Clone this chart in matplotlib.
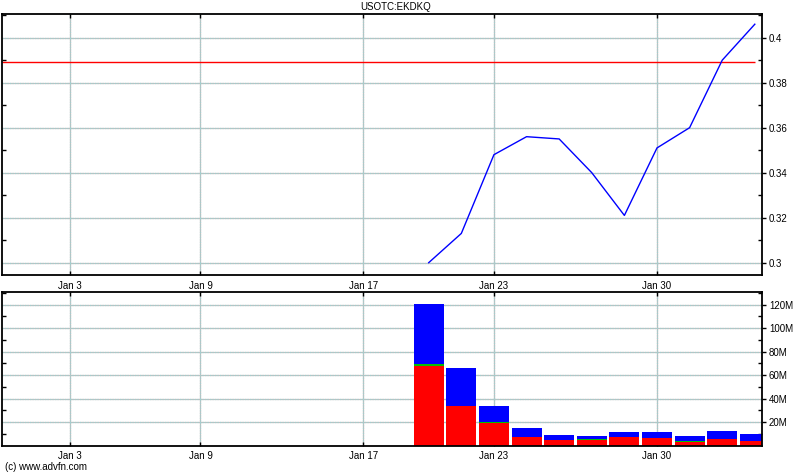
import matplotlib
matplotlib.use("Agg")
import matplotlib.pyplot as plt
from matplotlib.ticker import FixedLocator
import numpy as np

plt.rcParams['font.family'] = ['Liberation Sans', 'DejaVu Sans']

# Trading days shown on the axis (index = position)
dates = ["Jan 3", "Jan 4", "Jan 5", "Jan 6", "Jan 9", "Jan 10", "Jan 11", "Jan 12",
         "Jan 13", "Jan 17", "Jan 18", "Jan 19", "Jan 20", "Jan 23", "Jan 24",
         "Jan 25", "Jan 26", "Jan 27", "Jan 30", "Jan 31", "Feb 1", "Feb 2"]
tick_labels = ["Jan 3", "Jan 9", "Jan 17", "Jan 23", "Jan 30"]

# Price data (from Jan 19)
price_dates = ["Jan 19", "Jan 20", "Jan 23", "Jan 24", "Jan 25", "Jan 26",
               "Jan 27", "Jan 30", "Jan 31", "Feb 1", "Feb 2"]
price = [0.300, 0.313, 0.348, 0.356, 0.355, 0.340, 0.321, 0.351, 0.360, 0.390, 0.406]
ref_level = 0.3893

# Volume (millions): red, green, blue stacked
vol_red = [68.0, 33.8, 19.4, 7.7, 5.2, 5.0, 7.7, 6.9, 3.5, 5.8, 4.1]
vol_green = [1.2, 0.0, 0.8, 0.0, 0.0, 0.6, 0.0, 0.0, 0.8, 0.0, 0.0]
vol_blue = [51.4, 32.4, 13.6, 7.7, 4.0, 2.7, 4.0, 4.8, 4.0, 6.8, 5.9]

idx = {d: i for i, d in enumerate(dates)}
px = [idx[d] for d in price_dates]
tick_pos = [idx[d] for d in tick_labels]

fig = plt.figure(figsize=(8, 4.75), dpi=100)
ax1 = fig.add_axes([0.0025, 0.4211, 0.95, 0.5494])
ax2 = fig.add_axes([0.0025, 0.0617, 0.95, 0.3242])

xlim = (-2.085, 21.22)
grid_base = dict(color='#c4bcbc', linewidth=0.9, zorder=0)
grid_over = dict(color='#9fd0d0', linewidth=0.9, zorder=0.5, linestyle=(0, (1, 1)))

def grid_v(ax, t):
    ax.axvline(t, **grid_base)
    ax.axvline(t, **grid_over)

def grid_h(ax, v):
    ax.axhline(v, **grid_base)
    ax.axhline(v, **grid_over)

for ax in (ax1, ax2):
    ax.set_xlim(*xlim)
    for s in ax.spines.values():
        s.set_linewidth(1.3)
        s.set_color('black')
    ax.set_xticks(tick_pos)
    ax.yaxis.tick_right()
    ax.tick_params(axis='x', which='major', direction='in', length=3, width=1,
                   top=True, bottom=True, labelsize=7, pad=4)
    ax.tick_params(axis='y', which='major', direction='out', length=3, width=1,
                   right=True, left=False, labelsize=7, pad=2)
    ax.tick_params(axis='y', which='minor', direction='in', length=3, width=1,
                   right=True, left=True)
    ax.set_axisbelow(True)
    for t in tick_pos:
        grid_v(ax, t)

# Top panel
ax1.set_ylim(0.29453, 0.41053)
yt = [0.30, 0.32, 0.34, 0.36, 0.38, 0.40]
ax1.set_yticks(yt)
ax1.set_yticklabels(["0.3", "0.32", "0.34", "0.36", "0.38", "0.4"])
ax1.yaxis.set_minor_locator(FixedLocator([0.31, 0.33, 0.35, 0.37, 0.39, 0.41]))
for v in yt:
    grid_h(ax1, v)
ax1.set_xticklabels(tick_labels)
ax1.hlines(ref_level, xlim[0], px[-1], color='#ff0000', linewidth=1, zorder=2)
ax1.plot(px, price, color='#0000ff', linewidth=1, zorder=3)

# Bottom panel
ax2.set_ylim(0, 131.05)
vt = [20, 40, 60, 80, 100, 120]
ax2.set_yticks(vt)
ax2.set_yticklabels([f"{v}M" for v in vt])
ax2.yaxis.set_minor_locator(FixedLocator([10, 30, 50, 70, 90, 110, 130]))
for v in vt:
    grid_h(ax2, v)
ax2.set_xticklabels(tick_labels)
r = np.array(vol_red)
g = np.array(vol_green)
b = np.array(vol_blue)
w = 0.92
ax2.bar(px, r, width=w, color='#ff0000', linewidth=0, zorder=2)
ax2.bar(px, g, width=w, bottom=r, color='#00c000', linewidth=0, zorder=2)
ax2.bar(px, b, width=w, bottom=r + g, color='#0000ff', linewidth=0, zorder=2)

fig.text(0.495, 0.985, "USOTC:EKDKQ", ha='center', va='center', fontsize=7)
fig.text(0.006, 0.017, "(c) www.advfn.com", ha='left', va='center', fontsize=7)

fig.savefig("out.png", dpi=100)
